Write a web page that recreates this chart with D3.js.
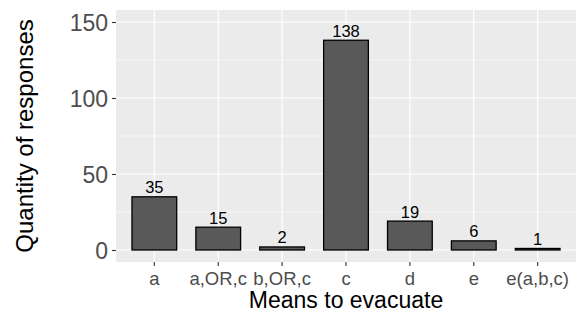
<!DOCTYPE html>
<html>
<head>
<meta charset="utf-8">
<script src="https://cdn.jsdelivr.net/npm/d3@7.9.0/dist/d3.min.js"></script>
<style>
  body { margin: 0; background: #fff; }
  text { font-family: "Liberation Sans", Arial, sans-serif; }
</style>
</head>
<body>
<svg id="chart" width="578" height="313"></svg>
<script>
// data
const categories = ["a", "a,OR,c", "b,OR,c", "c", "d", "e", "e(a,b,c)"];
const counts = [35, 15, 2, 138, 19, 6, 1];
const yTicks = [0, 50, 100, 150];
const yMinorTicks = [25, 75, 125];

const panel = { left: 116, right: 576, top: 10, bottom: 262 };

let svg = d3.select('#chart');

// scales
let x = d3.scaleBand()
  .domain(categories)
  .range([panel.left, panel.right])
  .paddingInner(0.3)
  .paddingOuter(0.25);

let y = d3.scaleLinear()
  .domain([-7.9, 157.9])
  .range([panel.bottom, panel.top]);

// panel background
svg.append('rect')
  .attr('x', panel.left)
  .attr('y', panel.top)
  .attr('width', panel.right - panel.left)
  .attr('height', panel.bottom - panel.top)
  .attr('fill', '#EBEBEB');

// minor grid
svg.append('g').selectAll('line')
  .data(yMinorTicks)
  .join('line')
  .attr('x1', panel.left).attr('x2', panel.right)
  .attr('y1', d => y(d)).attr('y2', d => y(d))
  .attr('stroke', '#fff').attr('stroke-width', 0.6);

// major grid
svg.append('g').selectAll('line')
  .data(yTicks)
  .join('line')
  .attr('x1', panel.left).attr('x2', panel.right)
  .attr('y1', d => y(d)).attr('y2', d => y(d))
  .attr('stroke', '#fff').attr('stroke-width', 1.2);

svg.append('g').selectAll('line')
  .data(categories)
  .join('line')
  .attr('x1', d => x(d) + x.bandwidth() / 2).attr('x2', d => x(d) + x.bandwidth() / 2)
  .attr('y1', panel.top).attr('y2', panel.bottom)
  .attr('stroke', '#fff').attr('stroke-width', 1.2);

// bars
svg.append('g').selectAll('rect')
  .data(categories)
  .join('rect')
  .attr('x', d => x(d))
  .attr('width', x.bandwidth())
  .attr('y', (d, i) => y(counts[i]))
  .attr('height', (d, i) => y(0) - y(counts[i]))
  .attr('fill', '#595959')
  .attr('stroke', '#000')
  .attr('stroke-width', 1.3);

// value labels
svg.append('g').selectAll('text')
  .data(categories)
  .join('text')
  .attr('x', d => x(d) + x.bandwidth() / 2)
  .attr('y', (d, i) => y(counts[i]) - 3.5)
  .attr('text-anchor', 'middle')
  .attr('font-size', 16.5)
  .attr('fill', '#000')
  .text((d, i) => counts[i]);

// y axis
let yAxis = d3.axisLeft(y).tickValues(yTicks).tickSize(4).tickPadding(4);
let gy = svg.append('g')
  .attr('transform', `translate(${panel.left},0)`)
  .call(yAxis);
gy.select('.domain').remove();
gy.selectAll('.tick line').attr('stroke', '#333').attr('stroke-width', 1.1);
gy.selectAll('.tick text')
  .attr('fill', '#4D4D4D')
  .attr('font-size', 23)
  .attr('font-family', '"Liberation Sans", Arial, sans-serif')
  .attr('dy', '0.36em');

// x axis
let xAxis = d3.axisBottom(x).tickSize(4).tickPadding(4);
let gx = svg.append('g')
  .attr('transform', `translate(0,${panel.bottom})`)
  .call(xAxis);
gx.select('.domain').remove();
gx.selectAll('.tick line').attr('stroke', '#333').attr('stroke-width', 1.1);
gx.selectAll('.tick text')
  .attr('fill', '#4D4D4D')
  .attr('font-size', 18.5)
  .attr('font-family', '"Liberation Sans", Arial, sans-serif')
  .attr('y', 23)
  .attr('dy', 0);

// axis titles
svg.append('text')
  .attr('x', (panel.left + panel.right) / 2)
  .attr('y', 308)
  .attr('text-anchor', 'middle')
  .attr('font-size', 23)
  .attr('fill', '#000')
  .text('Means to evacuate');

svg.append('text')
  .attr('transform', `translate(33,${(panel.top + panel.bottom) / 2}) rotate(-90)`)
  .attr('text-anchor', 'middle')
  .attr('font-size', 24)
  .attr('fill', '#000')
  .text('Quantity of responses');
</script>
</body>
</html>
